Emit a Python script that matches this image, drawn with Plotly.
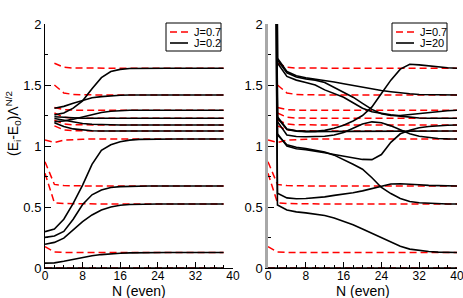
import plotly.graph_objects as go

W, H = 463, 298

# N values (even)
N_left = [0, 2, 4, 6, 8, 10, 12, 14, 16, 18, 20, 22, 24, 26, 28, 30, 32, 34, 36, 38]
N_right = [0, 2, 4, 6, 8, 10, 12, 14, 16, 18, 20, 22, 24, 26, 28, 30, 32, 34, 36, 38, 40]

# J=0.7 (red dashed), N = 0..40
red_0 = [0, 0, 0, 0, 0, 0, 0, 0, 0, 0, 0, 0, 0, 0, 0, 0, 0, 0, 0, 0, 0]
red_a = [None, 1.678, 1.645, 1.639, 1.638, 1.637, 1.637, 1.637, 1.637, 1.637, 1.637, 1.637, 1.637, 1.637, 1.637, 1.637, 1.637, 1.637, 1.637, 1.637, 1.637]
red_b = [None, 1.500, 1.435, 1.422, 1.419, 1.418, 1.418, 1.418, 1.418, 1.418, 1.418, 1.418, 1.418, 1.418, 1.418, 1.418, 1.418, 1.418, 1.418, 1.418, 1.418]
red_c = [None, 1.315, 1.298, 1.294, 1.293, 1.293, 1.293, 1.293, 1.293, 1.293, 1.293, 1.293, 1.293, 1.293, 1.293, 1.293, 1.293, 1.293, 1.293, 1.293, 1.293]
red_d = [None, 1.270, 1.236, 1.229, 1.227, 1.227, 1.227, 1.227, 1.227, 1.227, 1.227, 1.227, 1.227, 1.227, 1.227, 1.227, 1.227, 1.227, 1.227, 1.227, 1.227]
red_e = [None, 1.212, 1.180, 1.174, 1.172, 1.172, 1.172, 1.172, 1.172, 1.172, 1.172, 1.172, 1.172, 1.172, 1.172, 1.172, 1.172, 1.172, 1.172, 1.172, 1.172]
red_f = [None, 1.165, 1.132, 1.125, 1.123, 1.123, 1.123, 1.123, 1.123, 1.123, 1.123, 1.123, 1.123, 1.123, 1.123, 1.123, 1.123, 1.123, 1.123, 1.123, 1.123]
red_g = [1.050, 1.028, 1.048, 1.054, 1.056, 1.057, 1.057, 1.057, 1.057, 1.057, 1.057, 1.057, 1.057, 1.057, 1.057, 1.057, 1.057, 1.057, 1.057, 1.057, 1.057]
red_h = [0.871, 0.685, 0.676, 0.673, 0.672, 0.672, 0.672, 0.672, 0.672, 0.672, 0.672, 0.672, 0.672, 0.672, 0.672, 0.672, 0.672, 0.672, 0.672, 0.672, 0.672]
red_i = [0.776, 0.535, 0.528, 0.526, 0.525, 0.525, 0.525, 0.525, 0.525, 0.525, 0.525, 0.525, 0.525, 0.525, 0.525, 0.525, 0.525, 0.525, 0.525, 0.525, 0.525]
red_j = [0.175, 0.131, 0.128, 0.127, 0.127, 0.127, 0.127, 0.127, 0.127, 0.127, 0.127, 0.127, 0.127, 0.127, 0.127, 0.127, 0.127, 0.127, 0.127, 0.127, 0.127]
red_series = [red_0, red_a, red_b, red_c, red_d, red_e, red_f, red_g, red_h, red_i, red_j]

# J=0.2 (black, left panel), N = 0..38
bl_0 = [0, 0, 0, 0, 0, 0, 0, 0, 0, 0, 0, 0, 0, 0, 0, 0, 0, 0, 0, 0]
bl_a = [None, 1.255, 1.270, 1.310, 1.370, 1.470, 1.560, 1.610, 1.628, 1.635, 1.637, 1.637, 1.637, 1.637, 1.637, 1.637, 1.637, 1.637, 1.637, 1.637]
bl_b = [None, 1.310, 1.325, 1.350, 1.375, 1.395, 1.405, 1.412, 1.416, 1.418, 1.418, 1.418, 1.418, 1.418, 1.418, 1.418, 1.418, 1.418, 1.418, 1.418]
bl_c = [None, 1.200, 1.205, 1.220, 1.240, 1.260, 1.275, 1.285, 1.290, 1.293, 1.293, 1.293, 1.293, 1.293, 1.293, 1.293, 1.293, 1.293, 1.293, 1.293]
bl_d = [None, 1.240, 1.235, 1.230, 1.227, 1.227, 1.227, 1.227, 1.227, 1.227, 1.227, 1.227, 1.227, 1.227, 1.227, 1.227, 1.227, 1.227, 1.227, 1.227]
bl_e = [None, 1.225, 1.210, 1.195, 1.185, 1.178, 1.174, 1.172, 1.172, 1.172, 1.172, 1.172, 1.172, 1.172, 1.172, 1.172, 1.172, 1.172, 1.172, 1.172]
bl_f = [None, 1.190, 1.160, 1.140, 1.130, 1.125, 1.123, 1.123, 1.123, 1.123, 1.123, 1.123, 1.123, 1.123, 1.123, 1.123, 1.123, 1.123, 1.123, 1.123]
bl_g = [0.298, 0.320, 0.400, 0.530, 0.680, 0.850, 0.965, 1.010, 1.035, 1.048, 1.054, 1.056, 1.057, 1.057, 1.057, 1.057, 1.057, 1.057, 1.057, 1.057]
bl_h = [0.251, 0.262, 0.300, 0.400, 0.520, 0.600, 0.640, 0.660, 0.667, 0.670, 0.672, 0.672, 0.672, 0.672, 0.672, 0.672, 0.672, 0.672, 0.672, 0.672]
bl_i = [0.194, 0.210, 0.245, 0.310, 0.380, 0.435, 0.475, 0.500, 0.515, 0.521, 0.524, 0.525, 0.525, 0.525, 0.525, 0.525, 0.525, 0.525, 0.525, 0.525]
bl_j = [0.040, 0.042, 0.055, 0.070, 0.088, 0.100, 0.110, 0.117, 0.121, 0.124, 0.126, 0.127, 0.127, 0.127, 0.127, 0.127, 0.127, 0.127, 0.127, 0.127]
black_left = [bl_0, bl_a, bl_b, bl_c, bl_d, bl_e, bl_f, bl_g, bl_h, bl_i, bl_j]

# J=20 (black, right panel), N = 0..40 (N=0 levels lie far above the plotted range)
br_0 = [0, 0, 0, 0, 0, 0, 0, 0, 0, 0, 0, 0, 0, 0, 0, 0, 0, 0, 0, 0, 0]
br_a = [18.5, 1.720, 1.610, 1.575, 1.560, 1.550, 1.540, 1.525, 1.510, 1.495, 1.480, 1.465, 1.455, 1.445, 1.435, 1.428, 1.422, 1.420, 1.419, 1.418, 1.418]
br_b = [17.9, 1.705, 1.600, 1.565, 1.550, 1.540, 1.520, 1.480, 1.440, 1.400, 1.350, 1.300, 1.265, 1.250, 1.250, 1.258, 1.268, 1.278, 1.285, 1.289, 1.293]
br_c = [17.2, 1.680, 1.570, 1.540, 1.520, 1.500, 1.460, 1.430, 1.400, 1.355, 1.310, 1.280, 1.265, 1.255, 1.245, 1.236, 1.230, 1.228, 1.227, 1.227, 1.227]
br_d = [16.0, 1.240, 1.140, 1.125, 1.120, 1.120, 1.128, 1.145, 1.170, 1.205, 1.250, 1.320, 1.430, 1.540, 1.630, 1.670, 1.665, 1.655, 1.648, 1.641, 1.637]
br_e = [15.1, 1.200, 1.090, 1.078, 1.076, 1.077, 1.080, 1.090, 1.110, 1.145, 1.180, 1.198, 1.190, 1.165, 1.130, 1.100, 1.080, 1.068, 1.061, 1.058, 1.057]
br_f = [14.6, 1.230, 1.135, 1.122, 1.118, 1.117, 1.118, 1.119, 1.120, 1.120, 1.120, 1.120, 1.121, 1.121, 1.122, 1.122, 1.123, 1.123, 1.123, 1.123, 1.123]
br_g = [13.5, 1.100, 1.000, 0.978, 0.970, 0.960, 0.945, 0.930, 0.915, 0.900, 0.890, 0.888, 0.930, 1.030, 1.100, 1.130, 1.150, 1.160, 1.167, 1.170, 1.172]
br_h = [13.0, 1.090, 1.010, 0.990, 0.980, 0.965, 0.950, 0.925, 0.890, 0.850, 0.810, 0.740, 0.660, 0.610, 0.570, 0.545, 0.535, 0.530, 0.527, 0.525, 0.525]
br_i = [12.0, 0.612, 0.575, 0.568, 0.570, 0.575, 0.583, 0.595, 0.605, 0.617, 0.632, 0.650, 0.672, 0.688, 0.690, 0.688, 0.682, 0.677, 0.674, 0.672, 0.672]
br_j = [11.0, 0.516, 0.475, 0.460, 0.452, 0.443, 0.430, 0.410, 0.385, 0.355, 0.320, 0.285, 0.245, 0.210, 0.178, 0.155, 0.142, 0.135, 0.130, 0.128, 0.127]
black_right = [br_0, br_a, br_b, br_c, br_d, br_e, br_f, br_g, br_h, br_i, br_j]

x_ticks = [0, 8, 16, 24, 32, 40]
y_ticks = [0, 0.5, 1, 1.5, 2]
legend_left = ["J=0.7", "J=0.2"]
legend_right = ["J=0.7", "J=20"]
x_title = "N (even)"
y_title = "(E<sub>i</sub>-E<sub>0</sub>)Λ<sup>N/2</sup>"

FONT = "Liberation Sans, Arial, sans-serif"
RED = dict(color="#ff0000", width=1.5, dash="7px,4px")
BLACK = dict(color="#000000", width=1.6)

fig = go.Figure()

for s in red_series:
    fig.add_trace(go.Scatter(x=N_left, y=s[:len(N_left)], mode="lines", line=RED,
                             name=legend_left[0], showlegend=False, xaxis="x", yaxis="y"))
for s in black_left:
    fig.add_trace(go.Scatter(x=N_left, y=s, mode="lines", line=BLACK,
                             name=legend_left[1], showlegend=False, xaxis="x", yaxis="y"))
for s in red_series:
    fig.add_trace(go.Scatter(x=N_right, y=s, mode="lines", line=RED,
                             name=legend_right[0], showlegend=False, xaxis="x2", yaxis="y2"))
for s in black_right:
    fig.add_trace(go.Scatter(x=N_right, y=s, mode="lines", line=BLACK,
                             name=legend_right[1], showlegend=False, xaxis="x2", yaxis="y2"))

ydom = [1 - 268 / H, 1 - 24 / H]


def xaxis(dom, anchor):
    return dict(domain=dom, anchor=anchor, range=[0, 40], tickvals=x_ticks,
                automargin=False, ticklabelstandoff=-3, ticklabeloverflow="allow",
                showline=True, linecolor="black", linewidth=1, mirror=False,
                ticks="inside", ticklen=6, tickcolor="black", tickwidth=1,
                minor=dict(ticks="inside", ticklen=3, dtick=2, tick0=0, tickcolor="black"),
                showgrid=False, zeroline=False,
                tickfont=dict(family=FONT, size=12, color="black"))


def yaxis(anchor, linecolor, lw):
    return dict(domain=ydom, anchor=anchor, range=[0, 2], tickvals=y_ticks,
                automargin=False, ticklabeloverflow="allow",
                showline=True, linecolor=linecolor, linewidth=lw, mirror=False,
                ticks="inside", ticklen=6, tickcolor="black", tickwidth=1,
                minor=dict(ticks="inside", ticklen=3, dtick=0.25, tick0=0, tickcolor="black"),
                showgrid=False, zeroline=False,
                tickfont=dict(family=FONT, size=13, color="black"))


def px_x(v):
    return v / W


def px_y(v):
    return 1 - v / H


# legends (box, line samples, labels)
shapes = []
annotations = []
for (bx0, bx1, sx0, sx1, tx, labels) in [(166, 221, 170, 188, 192, legend_left),
                                         (392, 447, 396, 414, 418, legend_right)]:
    shapes.append(dict(type="rect", xref="paper", yref="paper",
                       x0=px_x(bx0), x1=px_x(bx1), y0=px_y(51), y1=px_y(23),
                       line=dict(color="black", width=1), fillcolor="white", layer="above"))
    for k, (yy, st) in enumerate([(32, RED), (43, BLACK)]):
        shapes.append(dict(type="line", xref="paper", yref="paper",
                           x0=px_x(sx0), x1=px_x(sx1), y0=px_y(yy), y1=px_y(yy),
                           line=dict(color=st["color"], width=st["width"],
                                     dash=st.get("dash", "solid")), layer="above"))
        annotations.append(dict(text=labels[k], xref="paper", yref="paper",
                                x=px_x(tx), y=px_y(yy), xanchor="left", yanchor="middle",
                                showarrow=False, font=dict(family=FONT, size=11, color="black")))

# axis titles
for cx in [(45 + 233) / 2, (268 + 457) / 2]:
    annotations.append(dict(text=x_title, xref="paper", yref="paper", x=px_x(cx), y=px_y(291),
                            xanchor="center", yanchor="middle", showarrow=False,
                            font=dict(family=FONT, size=14, color="black")))
annotations.append(dict(text=y_title, xref="paper", yref="paper", x=px_x(13), y=px_y(124),
                        xanchor="center", yanchor="middle", textangle=-90, showarrow=False,
                        font=dict(family=FONT, size=14, color="black")))

fig.update_layout(
    width=W, height=H,
    margin=dict(l=0, r=0, t=0, b=0, autoexpand=False),
    paper_bgcolor="white", plot_bgcolor="white",
    font=dict(family=FONT, color="black"),
    showlegend=False,
    xaxis=xaxis([45 / W, 233 / W], "y"),
    yaxis=yaxis("x", "black", 1),
    xaxis2=xaxis([268 / W, 457 / W], "y2"),
    yaxis2=yaxis("x2", "#a8a8a8", 2.5),
    shapes=shapes,
    annotations=annotations,
)

fig.write_html("out.html", config={"displayModeBar": False},
               post_script="document.body.style.margin='0';")
